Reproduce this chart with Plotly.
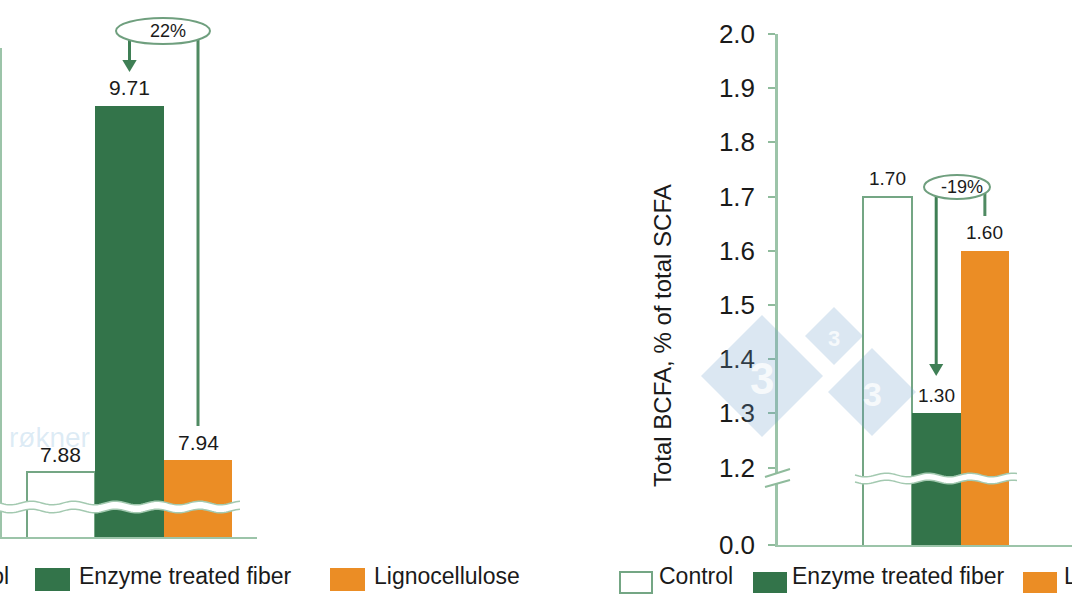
import math
import plotly.graph_objects as go

# ---------------- data ----------------
categories = ["Control", "Enzyme treated fiber", "Lignocellulose"]
left_values = [7.88, 9.71, 7.94]
right_values = [1.70, 1.30, 1.60]
left_change = "22%"
right_change = "-19%"
right_axis_title = "Total BCFA, % of total SCFA"
left_tick_values = [8.0, 8.5, 9.0, 9.5, 10.0]
right_tick_values = [1.2, 1.3, 1.4, 1.5, 1.6, 1.7, 1.8, 1.9, 2.0]
right_tick_labels = ["1.2", "1.3", "1.4", "1.5", "1.6", "1.7", "1.8", "1.9", "2.0"]
zero_label = "0.0"

# ---------------- styling ----------------
W, H = 1072, 603
FONT = "Arial, 'Liberation Sans', sans-serif"
TXT = "#1a1a1a"
AX = "#9cc4a9"
OUTLINE = "#74a684"
GREEN = "#33744a"
ORANGE = "#eb8d25"
ARROW = "#3f7f55"
fills = ["white", GREEN, ORANGE]
lines = [OUTLINE, GREEN, ORANGE]
line_w = [2, 0, 0]

LEFT_FLOOR = 7.555   # axis bottom (broken axis, shows 0)
RIGHT_FLOOR = 1.057


def px(x):
    return x / W


def py(y):
    return 1 - y / H


fig = go.Figure()
xs = list(range(len(categories)))
fig.add_trace(go.Bar(x=xs, y=left_values, width=1, xaxis="x", yaxis="y",
                     marker=dict(color=fills, line=dict(color=lines, width=line_w)),
                     hoverinfo="skip", showlegend=False))
fig.add_trace(go.Bar(x=xs, y=right_values, width=1, xaxis="x2", yaxis="y2",
                     marker=dict(color=fills, line=dict(color=lines, width=line_w)),
                     hoverinfo="skip", showlegend=False))

annotations = []
shapes = []


def ann(**kw):
    kw.setdefault("showarrow", False)
    kw.setdefault("xanchor", "center")
    kw.setdefault("yanchor", "middle")
    annotations.append(kw)


# value labels
for i, v in enumerate(left_values):
    ann(x=i, y=v, xref="x", yref="y", text=f"{v:.2f}", yshift=18,
        font=dict(size=21, color=TXT, family=FONT))
for i, v in enumerate(right_values):
    ann(x=i, y=v, xref="x2", yref="y2", text=f"{v:.2f}", yshift=18,
        font=dict(size=19, color=TXT, family=FONT))

# ---------------- watermarks ----------------
WM = "rgba(110,160,205,0.25)"
for cx, cy, r, fs in [(762, 376, 61, 44), (834, 336, 29, 22), (872, 392, 44, 34)]:
    shapes.append(dict(type="path", xref="paper", yref="paper", layer="above",
                       path=f"M {px(cx-r)},{py(cy)} L {px(cx)},{py(cy-r)} L {px(cx+r)},{py(cy)} L {px(cx)},{py(cy+r)} Z",
                       fillcolor=WM, line=dict(width=0)))
    ann(x=px(cx), y=py(cy + 2), xref="paper", yref="paper", text="<b>3</b>",
        font=dict(size=fs, color="rgba(255,255,255,0.75)", family=FONT))
ann(x=px(92), y=py(437), xref="paper", yref="paper", text="røkner", xanchor="right",
    font=dict(size=28, color="rgba(120,175,215,0.25)", family=FONT))


# ---------------- axis break bands ----------------
def wave_pts(x0, x1, yc, amp=1.8, period=42):
    pts = []
    n = int((x1 - x0) / 2) + 1
    for k in range(n + 1):
        x = x0 + (x1 - x0) * k / n
        y = yc + amp * math.sin(2 * math.pi * (x - x0) / period)
        pts.append((x, y))
    return pts


def add_break(x0, x1, ytop, ybot):
    top = wave_pts(x0, x1, ytop)
    bot = wave_pts(x0, x1, ybot)
    poly = top + bot[::-1]
    path = "M " + " L ".join(f"{px(a)},{py(b)}" for a, b in poly) + " Z"
    shapes.append(dict(type="path", xref="paper", yref="paper", layer="above", path=path,
                       fillcolor="white", line=dict(width=0)))
    for pts in (top, bot):
        p = "M " + " L ".join(f"{px(a)},{py(b)}" for a, b in pts)
        shapes.append(dict(type="path", xref="paper", yref="paper", layer="above", path=p,
                           line=dict(color="#a3c9b0", width=1.5)))


add_break(0, 240, 503, 511)
add_break(855, 1017, 475, 482)
# axis slashes on right y axis
shapes.append(dict(type="path", xref="paper", yref="paper", layer="above",
                   path=f"M {px(765)},{py(477)} L {px(790)},{py(469)} L {px(790)},{py(480)} L {px(765)},{py(487)} Z",
                   fillcolor="white", line=dict(width=0)))
for y1, y2 in [(477, 469), (487, 480)]:
    shapes.append(dict(type="line", xref="paper", yref="paper", layer="above",
                       x0=px(765), y0=py(y1), x1=px(790), y1=py(y2), line=dict(color="#8fbb9c", width=2)))

# ---------------- change callouts ----------------
# left panel
shapes.append(dict(type="line", xref="x", yref="paper", x0=1, x1=1, y0=py(36), y1=py(62),
                   line=dict(color=ARROW, width=3)))
shapes.append(dict(type="path", xref="x", yref="paper",
                   path=f"M {1-0.105},{py(60)} L {1+0.105},{py(60)} L 1,{py(72)} Z",
                   fillcolor=ARROW, line=dict(width=0)))
shapes.append(dict(type="line", xref="x", yref="paper", x0=2, x1=2, y0=py(36), y1=py(426),
                   line=dict(color="#4f8a62", width=3)))
shapes.append(dict(type="circle", xref="paper", yref="paper", x0=px(116), x1=px(210), y0=py(44), y1=py(18),
                   fillcolor="white", line=dict(color="#6f9f7e", width=2)))
ann(x=px(168), y=py(31), xref="paper", yref="paper", text=left_change,
    font=dict(size=18, color=TXT, family=FONT))
# right panel
shapes.append(dict(type="line", xref="x2", yref="paper", x0=1, x1=1, y0=py(192), y1=py(366),
                   line=dict(color=ARROW, width=3)))
shapes.append(dict(type="path", xref="x2", yref="paper",
                   path=f"M {1-0.145},{py(364)} L {1+0.145},{py(364)} L 1,{py(376)} Z",
                   fillcolor=ARROW, line=dict(width=0)))
shapes.append(dict(type="line", xref="x2", yref="paper", x0=2, x1=2, y0=py(192), y1=py(216),
                   line=dict(color="#4f8a62", width=3)))
shapes.append(dict(type="circle", xref="paper", yref="paper", x0=px(924), x1=px(990), y0=py(199), y1=py(175),
                   fillcolor="white", line=dict(color="#6f9f7e", width=2)))
ann(x=px(962), y=py(187), xref="paper", yref="paper", text=right_change,
    font=dict(size=18, color=TXT, family=FONT))

# right y axis title
ann(x=px(662), y=py(336), xref="paper", yref="paper", text=right_axis_title,
    textangle=-90, font=dict(size=24, color=TXT, family=FONT))

# ---------------- legends (drawn) ----------------
LEG_FONT = dict(size=23, color=TXT, family=FONT)


def legend(items, y_text):
    for (x0, x1, y0, y1, tx, anchor, k) in items:
        shapes.append(dict(type="rect", xref="paper", yref="paper", x0=px(x0), x1=px(x1), y0=py(y1), y1=py(y0),
                           fillcolor=fills[k], line=dict(color=lines[k], width=2 if k == 0 else 0)))
        ann(x=px(tx), y=py(y_text), xref="paper", yref="paper", text=categories[k],
            xanchor=anchor, font=LEG_FONT)


legend([(-40, -8, 568, 590, 11, "right", 0),
        (35, 70, 568, 591, 77, "left", 1),
        (330, 365, 568, 591, 372, "left", 2)], 576)
legend([(620, 652, 572, 593, 657, "left", 0),
        (753, 787, 572, 593, 790, "left", 1),
        (1023, 1057, 572, 593, 1062, "left", 2)], 576)

axis_common = dict(showgrid=False, zeroline=False, fixedrange=True, automargin=False)
fig.update_layout(
    template="none",
    width=W, height=H, margin=dict(l=0, r=0, t=0, b=0, pad=0, autoexpand=False),
    paper_bgcolor="white", plot_bgcolor="white",
    font=dict(family=FONT, color=TXT),
    showlegend=False, bargap=0,
    xaxis=dict(domain=[px(2), px(257)], range=[-0.861, 2.861], anchor="y", showline=True,
               linecolor=AX, linewidth=2, showticklabels=False, ticks="", **axis_common),
    yaxis=dict(domain=[py(537), py(48)], range=[LEFT_FLOOR, 10.0], anchor="x", showline=True,
               linecolor=AX, linewidth=3, ticks="outside", ticklen=4, tickcolor="#8fbb9c",
               tickvals=left_tick_values, showticklabels=False, **axis_common),
    xaxis2=dict(domain=[px(778), 1.0], range=[-2.25, 3.79], anchor="y2", showline=True,
                linecolor=AX, linewidth=2, showticklabels=False, ticks="", **axis_common),
    yaxis2=dict(domain=[py(545), py(34)], range=[RIGHT_FLOOR, 2.0], anchor="x2", showline=True,
                linecolor=AX, linewidth=2.5, ticks="outside", ticklen=7, tickwidth=2, tickcolor="#8fbb9c",
                tickvals=[RIGHT_FLOOR] + right_tick_values, ticktext=[zero_label] + right_tick_labels,
                tickfont=dict(size=26, color=TXT, family=FONT), ticklabelstandoff=8, **axis_common),
    shapes=shapes, annotations=annotations,
)

fig.write_html("out.html")
